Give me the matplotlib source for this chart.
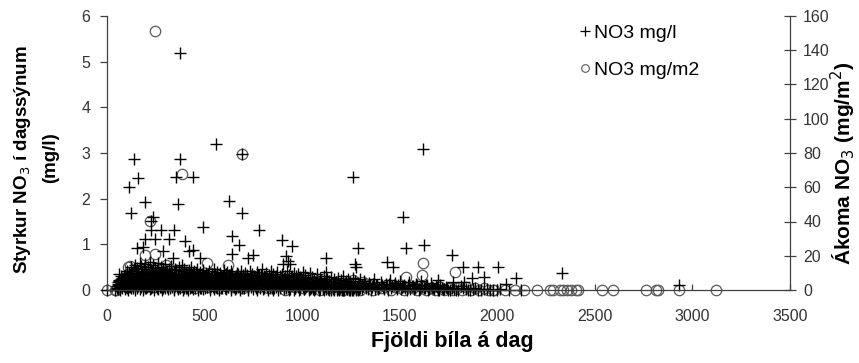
import matplotlib
matplotlib.use("Agg")
import matplotlib.pyplot as plt
from matplotlib.lines import Line2D

plt.rcParams['font.family'] = ['Liberation Sans', 'DejaVu Sans']

# NO3 concentration in daily samples (mg/l) vs cars per day
conc_outliers = [(375, 5.2), (560, 3.2), (138, 2.87), (374, 2.87), (1620, 3.08), (159, 2.45),
                 (113, 2.25), (353, 2.47), (440, 2.48), (1260, 2.48), (193, 1.92), (364, 1.88),
                 (623, 1.95), (123, 1.69), (690, 1.68), (237, 1.59), (1516, 1.59), (223, 1.52),
                 (493, 1.39), (228, 1.31), (276, 1.31), (343, 1.31), (780, 1.31), (196, 1.11),
                 (244, 1.11), (319, 1.11), (401, 1.08), (640, 1.18), (899, 1.09), (674, 0.98),
                 (947, 0.96), (1287, 0.93), (1534, 0.93), (1623, 0.98), (152, 0.91), (186, 0.95),
                 (288, 0.86), (421, 0.86), (442, 0.88), (643, 0.79), (750, 0.77), (916, 0.74),
                 (1766, 0.77), (723, 0.69), (340, 0.69), (476, 0.69), (1124, 0.69), (928, 0.64),
                 (902, 0.58), (940, 0.58), (1270, 0.58), (1435, 0.62), (1274, 0.50), (1466, 0.50),
                 (1825, 0.50), (1901, 0.50), (2004, 0.50), (61, 0.36), (1124, 0.40), (2331, 0.38),
                 (1697, 0.22), (1870, 0.27), (1932, 0.29), (2094, 0.27), (1773, 0.18), (1828, 0.18),
                 (2046, 0.13), (2930, 0.10), (692, 2.98), (0, 0.0), (40, 0.0)]

conc_band_upper = [(58, 0.18), (72, 0.25), (88, 0.3), (101, 0.42), (112, 0.38), (121, 0.5), (137, 0.45),
                   (146, 0.55), (152, 0.48), (167, 0.6), (174, 0.52), (189, 0.47), (196, 0.58), (208, 0.5),
                   (219, 0.62), (224, 0.44), (238, 0.55), (247, 0.49), (259, 0.6), (263, 0.42), (277, 0.51),
                   (286, 0.47), (298, 0.58), (305, 0.4), (317, 0.45), (326, 0.52), (334, 0.38), (347, 0.47),
                   (352, 0.43), (368, 0.5), (379, 0.41), (383, 0.55), (396, 0.46), (404, 0.39), (418, 0.44),
                   (427, 0.36), (431, 0.5), (445, 0.42), (458, 0.37), (463, 0.46), (479, 0.4), (488, 0.35),
                   (492, 0.44), (506, 0.38), (515, 0.33), (523, 0.42), (537, 0.36), (548, 0.45), (556, 0.34),
                   (564, 0.4), (578, 0.37), (585, 0.31), (599, 0.43), (608, 0.35), (613, 0.39), (627, 0.32),
                   (636, 0.41), (642, 0.36), (659, 0.3), (668, 0.38), (671, 0.34), (688, 0.42), (697, 0.33)]

conc_band_mid = [(62, 0.1), (75, 0.15), (84, 0.2), (93, 0.12), (108, 0.24), (116, 0.18), (129, 0.3),
                 (141, 0.22), (157, 0.28), (162, 0.15), (181, 0.33), (193, 0.2), (202, 0.27), (214, 0.16),
                 (229, 0.3), (243, 0.22), (251, 0.34), (268, 0.19), (274, 0.28), (292, 0.24), (301, 0.17),
                 (312, 0.29), (329, 0.21), (337, 0.26), (358, 0.18), (364, 0.3), (372, 0.22), (389, 0.27),
                 (399, 0.19), (411, 0.25), (422, 0.17), (438, 0.28), (449, 0.2), (456, 0.24), (471, 0.16),
                 (484, 0.27), (498, 0.21), (509, 0.18), (518, 0.26), (531, 0.2), (542, 0.15), (559, 0.24),
                 (567, 0.19), (581, 0.27), (593, 0.16), (604, 0.22), (619, 0.18), (628, 0.25), (641, 0.14),
                 (655, 0.21), (663, 0.17), (679, 0.24), (692, 0.19)]

conc_band_low = [(55, 0.03), (66, 0.0), (79, 0.05), (90, 0.02), (99, 0.07), (110, 0.0), (124, 0.04),
                 (134, 0.09), (143, 0.01), (155, 0.06), (169, 0.03), (177, 0.1), (187, 0.0), (199, 0.05),
                 (211, 0.08), (221, 0.02), (233, 0.06), (241, 0.0), (256, 0.09), (262, 0.03), (279, 0.07),
                 (283, 0.0), (296, 0.05), (309, 0.1), (314, 0.02), (331, 0.06), (342, 0.0), (350, 0.08),
                 (366, 0.03), (371, 0.07), (387, 0.01), (394, 0.09), (406, 0.04), (416, 0.0), (433, 0.06),
                 (441, 0.02), (453, 0.08), (466, 0.0), (477, 0.05), (489, 0.1), (494, 0.02), (511, 0.06),
                 (527, 0.0), (534, 0.09), (549, 0.03), (561, 0.07), (574, 0.0), (583, 0.05), (597, 0.1),
                 (611, 0.02), (622, 0.06), (637, 0.0), (646, 0.08), (658, 0.03), (669, 0.07), (683, 0.01),
                 (694, 0.05)]

conc_band_extra = [(53, 0.08), (60, 0.2), (69, 0.12), (77, 0.27), (86, 0.09), (92, 0.33), (103, 0.15),
                   (106, 0.29), (114, 0.08), (119, 0.36), (127, 0.2), (131, 0.12), (139, 0.38), (148, 0.26),
                   (150, 0.11), (160, 0.41), (165, 0.22), (171, 0.13), (179, 0.39), (183, 0.24), (191, 0.09),
                   (198, 0.36), (204, 0.14), (210, 0.42), (217, 0.25), (226, 0.12), (232, 0.4), (236, 0.17),
                   (245, 0.31), (249, 0.08), (254, 0.44), (261, 0.23), (266, 0.11), (272, 0.37), (281, 0.16),
                   (288, 0.3), (291, 0.09), (299, 0.41), (303, 0.25), (310, 0.13), (319, 0.35), (324, 0.08),
                   (332, 0.27), (339, 0.15), (344, 0.38), (355, 0.11), (361, 0.24), (369, 0.36), (376, 0.14),
                   (381, 0.29), (391, 0.08), (398, 0.34), (402, 0.13), (409, 0.3), (414, 0.21), (425, 0.1),
                   (429, 0.33), (436, 0.14), (443, 0.37), (451, 0.11), (459, 0.3), (467, 0.09), (473, 0.34),
                   (481, 0.12), (486, 0.31), (496, 0.1), (503, 0.28), (512, 0.13), (520, 0.35), (526, 0.09),
                   (533, 0.27), (540, 0.12), (551, 0.3), (558, 0.08), (566, 0.33), (573, 0.13), (579, 0.25),
                   (588, 0.1), (595, 0.3), (602, 0.12), (609, 0.36), (616, 0.09), (624, 0.28), (631, 0.14),
                   (639, 0.31), (647, 0.1), (653, 0.27), (661, 0.12), (666, 0.33), (674, 0.09), (681, 0.29),
                   (689, 0.13), (696, 0.26),
                   (707, 0.1), (715, 0.25), (723, 0.06), (736, 0.3), (741, 0.14), (755, 0.23), (760, 0.08),
                   (772, 0.32), (783, 0.12), (789, 0.25), (806, 0.09), (812, 0.28), (824, 0.14), (831, 0.33),
                   (843, 0.05), (849, 0.24), (861, 0.13), (866, 0.3), (878, 0.08), (884, 0.22), (899, 0.12),
                   (911, 0.3), (919, 0.08), (925, 0.22), (942, 0.13), (949, 0.31), (961, 0.07), (971, 0.21),
                   (979, 0.1), (989, 0.29), (1002, 0.06), (1013, 0.2), (1021, 0.09), (1031, 0.25),
                   (1044, 0.05), (1055, 0.18), (1066, 0.08), (1074, 0.22), (1085, 0.04), (1096, 0.16),
                   (1108, 0.07), (1121, 0.19), (1133, 0.03), (1146, 0.14), (1158, 0.06), (1171, 0.17),
                   (1182, 0.02), (1195, 0.13), (1207, 0.05), (1219, 0.15), (1232, 0.02), (1244, 0.11)]

conc_band_fill = [(51, 0.05), (57, 0.14), (63, 0.22), (67, 0.06), (71, 0.18), (74, 0.3), (80, 0.1),
                  (83, 0.24), (87, 0.16), (91, 0.06), (95, 0.27), (98, 0.19), (102, 0.04), (105, 0.35),
                  (109, 0.12), (113, 0.21), (117, 0.28), (120, 0.07), (123, 0.16), (126, 0.33), (130, 0.24),
                  (133, 0.05), (136, 0.18), (140, 0.3), (144, 0.13), (147, 0.36), (151, 0.2), (154, 0.04),
                  (158, 0.33), (161, 0.09), (164, 0.27), (168, 0.18), (172, 0.37), (175, 0.06), (178, 0.25),
                  (182, 0.14), (186, 0.31), (190, 0.22), (194, 0.04), (197, 0.15), (201, 0.35), (205, 0.07),
                  (209, 0.24), (213, 0.32), (216, 0.09), (220, 0.19), (223, 0.36), (227, 0.05), (231, 0.23),
                  (235, 0.14), (239, 0.33), (242, 0.06), (246, 0.25), (250, 0.16), (253, 0.38), (257, 0.05),
                  (260, 0.27), (264, 0.18), (269, 0.32), (273, 0.07), (276, 0.22), (280, 0.13), (284, 0.35),
                  (287, 0.04), (290, 0.2), (294, 0.31), (298, 0.11), (302, 0.36), (306, 0.06), (311, 0.22),
                  (315, 0.14), (318, 0.3), (322, 0.04), (327, 0.19), (330, 0.33), (335, 0.1), (338, 0.24),
                  (343, 0.05), (346, 0.3), (351, 0.15), (354, 0.35), (357, 0.07), (362, 0.2), (367, 0.12),
                  (370, 0.31), (374, 0.04), (378, 0.21), (382, 0.09), (385, 0.34), (390, 0.16), (393, 0.05),
                  (397, 0.26), (401, 0.1), (405, 0.2), (408, 0.04), (412, 0.33), (417, 0.11), (421, 0.24),
                  (424, 0.05), (428, 0.18), (432, 0.27), (435, 0.07), (440, 0.2), (444, 0.1), (448, 0.31),
                  (452, 0.04), (457, 0.16), (461, 0.26), (465, 0.06), (469, 0.21), (474, 0.12), (478, 0.3),
                  (482, 0.05), (487, 0.18), (491, 0.09), (495, 0.26), (500, 0.04), (504, 0.16), (508, 0.31),
                  (513, 0.07), (517, 0.2), (521, 0.11), (525, 0.29), (530, 0.04), (535, 0.15), (539, 0.24),
                  (544, 0.06), (547, 0.19), (552, 0.1), (557, 0.28), (562, 0.05), (565, 0.14), (570, 0.22),
                  (575, 0.07), (580, 0.17), (584, 0.31), (589, 0.04), (592, 0.2), (598, 0.11), (603, 0.27),
                  (607, 0.05), (612, 0.15), (617, 0.25), (621, 0.07), (626, 0.19), (630, 0.32), (634, 0.04),
                  (640, 0.13), (644, 0.23), (649, 0.06), (654, 0.17), (657, 0.29), (662, 0.05), (667, 0.21),
                  (672, 0.12), (677, 0.27), (680, 0.04), (686, 0.16), (691, 0.22), (695, 0.08), (699, 0.29),
                  (703, 0.05), (709, 0.2), (714, 0.12), (719, 0.32), (725, 0.04), (729, 0.17), (733, 0.24),
                  (740, 0.06), (745, 0.2), (749, 0.09), (754, 0.3), (759, 0.15), (765, 0.04), (769, 0.26),
                  (775, 0.13), (781, 0.2), (785, 0.05), (790, 0.33), (795, 0.1), (801, 0.22), (807, 0.04),
                  (811, 0.15), (818, 0.26), (823, 0.08), (829, 0.19), (836, 0.04), (841, 0.29), (845, 0.12),
                  (852, 0.22), (858, 0.05), (862, 0.15), (869, 0.25), (874, 0.08), (880, 0.19), (886, 0.04),
                  (891, 0.27), (897, 0.1), (903, 0.21), (908, 0.04), (914, 0.14), (920, 0.24), (926, 0.06),
                  (932, 0.18), (937, 0.03), (943, 0.23), (950, 0.1), (955, 0.2), (962, 0.04), (968, 0.14),
                  (973, 0.25), (978, 0.06), (985, 0.17), (991, 0.03), (997, 0.22), (1003, 0.1), (1009, 0.17),
                  (1016, 0.04), (1022, 0.2), (1027, 0.1), (1035, 0.15), (1041, 0.03), (1048, 0.19),
                  (1053, 0.08), (1060, 0.13), (1067, 0.02), (1072, 0.16), (1079, 0.08), (1086, 0.12),
                  (1092, 0.02), (1100, 0.14), (1106, 0.05), (1114, 0.1), (1122, 0.02), (1129, 0.13),
                  (1135, 0.06), (1142, 0.09), (1150, 0.01), (1157, 0.12), (1163, 0.04), (1170, 0.08),
                  (1178, 0.01), (1186, 0.1), (1193, 0.04), (1201, 0.07), (1210, 0.0), (1218, 0.09),
                  (1226, 0.04), (1234, 0.06), (1243, 0.0), (1251, 0.08), (1258, 0.03), (1267, 0.05),
                  (1275, 0.0), (1283, 0.07), (1290, 0.03), (1298, 0.05),
                  (1309, 0.02), (1314, 0.09), (1323, 0.14), (1335, 0.03), (1347, 0.1), (1358, 0.06),
                  (1363, 0.14), (1372, 0.02), (1384, 0.12), (1396, 0.05), (1409, 0.1), (1421, 0.02),
                  (1433, 0.08), (1445, 0.13), (1457, 0.04), (1469, 0.1), (1481, 0.06), (1493, 0.12),
                  (1505, 0.02), (1517, 0.09), (1529, 0.05), (1541, 0.11), (1553, 0.02), (1566, 0.08),
                  (1579, 0.05), (1591, 0.1), (1603, 0.02), (1615, 0.08), (1628, 0.04), (1640, 0.1),
                  (1652, 0.02), (1665, 0.07), (1677, 0.03), (1690, 0.06), (1702, 0.01), (1715, 0.05),
                  (1729, 0.02), (1742, 0.04), (1756, 0.0), (1779, 0.03), (1801, 0.01), (1826, 0.04),
                  (1850, 0.0), (1873, 0.02), (1900, 0.0), (1931, 0.02), (1965, 0.0), (1996, 0.01)]

conc_band_far = [(705, 0.38), (718, 0.3), (731, 0.42), (744, 0.35), (758, 0.28), (767, 0.4), (779, 0.33),
                 (792, 0.45), (803, 0.3), (816, 0.37), (828, 0.26), (839, 0.42), (851, 0.34), (863, 0.29),
                 (872, 0.4), (887, 0.31), (896, 0.36), (909, 0.27), (921, 0.41), (933, 0.33), (944, 0.28),
                 (958, 0.38), (967, 0.3), (981, 0.35), (992, 0.26), (1006, 0.4), (1015, 0.32), (1029, 0.27),
                 (1038, 0.37), (1052, 0.29), (1063, 0.24), (1077, 0.34), (1089, 0.27), (1098, 0.22),
                 (1112, 0.31), (1126, 0.25), (1137, 0.2), (1149, 0.29), (1161, 0.23), (1175, 0.18),
                 (1184, 0.27), (1198, 0.21), (1209, 0.3), (1223, 0.19), (1236, 0.24), (1247, 0.17),
                 (1259, 0.26), (1271, 0.2), (1288, 0.15), (1296, 0.23),
                 (712, 0.18), (726, 0.1), (738, 0.2), (751, 0.13), (763, 0.22), (774, 0.08), (786, 0.17),
                 (797, 0.12), (809, 0.2), (821, 0.07), (834, 0.16), (846, 0.11), (857, 0.19), (868, 0.06),
                 (881, 0.15), (893, 0.1), (904, 0.18), (917, 0.05), (928, 0.14), (939, 0.09), (952, 0.17),
                 (963, 0.04), (976, 0.13), (987, 0.08), (999, 0.16), (1011, 0.03), (1024, 0.12),
                 (1033, 0.07), (1046, 0.14), (1058, 0.03), (1069, 0.1), (1082, 0.06), (1094, 0.12),
                 (1105, 0.02), (1118, 0.09), (1131, 0.05), (1143, 0.11), (1156, 0.02), (1168, 0.08),
                 (1179, 0.04), (1191, 0.1), (1204, 0.01), (1216, 0.07), (1228, 0.03), (1241, 0.09),
                 (1253, 0.0), (1265, 0.06), (1277, 0.02), (1292, 0.08),
                 (720, 0.0), (748, 0.02), (771, 0.0), (799, 0.03), (826, 0.0), (853, 0.01), (877, 0.0),
                 (906, 0.02), (931, 0.0), (956, 0.01), (984, 0.0), (1008, 0.02), (1036, 0.0), (1061, 0.01),
                 (1087, 0.0), (1113, 0.01), (1139, 0.0), (1164, 0.01), (1188, 0.0), (1213, 0.01),
                 (1239, 0.0), (1262, 0.01), (1285, 0.0)]

conc_band_tail = [(1305, 0.12), (1318, 0.2), (1329, 0.05), (1342, 0.16), (1354, 0.0), (1367, 0.24),
                  (1378, 0.1), (1391, 0.03), (1403, 0.18), (1416, 0.07), (1428, 0.13), (1439, 0.0),
                  (1452, 0.22), (1463, 0.09), (1476, 0.15), (1488, 0.02), (1499, 0.19), (1511, 0.06),
                  (1524, 0.12), (1537, 0.0), (1548, 0.17), (1561, 0.08), (1573, 0.03), (1586, 0.14),
                  (1598, 0.0), (1609, 0.2), (1622, 0.05), (1634, 0.11), (1647, 0.0), (1659, 0.16),
                  (1671, 0.04), (1684, 0.09), (1696, 0.0), (1708, 0.12), (1721, 0.03), (1735, 0.07),
                  (1749, 0.0), (1768, 0.05), (1790, 0.0), (1812, 0.08), (1841, 0.02), (1858, 0.0),
                  (1887, 0.04), (1915, 0.0), (1948, 0.03), (1980, 0.0), (2015, 0.02), (2060, 0.0),
                  (2120, 0.01)]

# NO3 load (mg/m2) vs cars per day
load_outliers = [(245, 151), (383, 67.7), (692, 79.5), (220, 40.5), (195, 20.4), (246, 21),
                 (510, 15.6), (118, 14), (109, 13.6), (302, 14.6), (621, 14.6), (1620, 16),
                 (1534, 7.8), (1613, 8.8), (1782, 10.3), (1261, 5.8), (1312, 4.8), (1116, 3.3),
                 (0, 0), (40, 0)]

load_band = [(48, 0), (64, 1.5), (82, 3), (96, 5), (107, 2), (126, 7), (139, 4), (151, 9), (164, 3),
             (176, 11), (188, 6), (203, 12), (216, 5), (230, 9), (239, 2), (257, 13), (269, 7), (281, 10),
             (293, 4), (306, 8), (321, 12), (333, 3), (345, 9), (359, 6), (370, 11), (384, 2), (397, 7),
             (410, 10), (423, 4), (437, 8), (450, 1), (462, 6), (475, 9), (489, 3), (503, 7), (517, 2),
             (529, 10), (541, 5), (555, 8), (569, 1), (582, 6), (596, 3), (609, 9), (624, 4), (638, 7),
             (651, 2), (666, 5), (681, 8), (696, 1), (712, 6), (734, 3), (757, 7), (779, 2), (801, 5),
             (824, 1), (846, 6), (869, 3), (891, 4), (914, 0), (937, 5), (959, 2), (982, 6), (1004, 1),
             (1027, 4), (1049, 2), (1072, 5), (1094, 0), (1117, 3), (1139, 1), (1162, 4), (1184, 2),
             (1207, 0), (1229, 3), (1252, 1), (1274, 4), (1297, 0), (1320, 2), (1342, 3), (1365, 0),
             (1388, 2), (1410, 1), (1433, 3), (1455, 0), (1478, 2), (1500, 1), (1523, 0), (1546, 2),
             (1568, 1), (1591, 0), (1614, 2), (1636, 0), (1659, 1), (1681, 0), (1704, 2), (1727, 0),
             (1750, 1), (1772, 0), (1795, 1), (1818, 0), (1840, 2), (1863, 0), (1886, 1), (1908, 0),
             (1931, 1), (1954, 0), (1977, 0)]

load_right = [(1983, 0), (2042, 0), (2089, 0), (2136, 0), (2203, 0), (2268, 0), (2288, 0), (2319, 0),
              (2336, 0), (2356, 0), (2379, 0), (2401, 0), (2416, 0), (2536, 0), (2593, 0), (2760, 0),
              (2815, 0), (2823, 0), (2932, 0), (3121, 0)]

x_ticks = [0, 500, 1000, 1500, 2000, 2500, 3000, 3500]
left_ticks = [0, 1, 2, 3, 4, 5, 6]
right_ticks = [0, 20, 40, 60, 80, 100, 120, 140, 160]

conc = (conc_band_low + conc_band_mid + conc_band_fill + conc_band_extra + conc_band_upper
        + conc_band_far + conc_band_tail + conc_outliers)
load = load_band + load_right + load_outliers

fig = plt.figure(figsize=(8.59, 3.63), dpi=100)
ax = fig.add_axes([107 / 859, 1 - 290 / 363, 683 / 859, 274 / 363])
ax2 = ax.twinx()
# crosses on top of the circles
ax.set_zorder(ax2.get_zorder() + 1)
ax.patch.set_visible(False)

ax2.plot([p[0] for p in load], [p[1] for p in load], linestyle='none', marker='o',
         ms=7.5, mew=0.9, mfc='none', mec='#5a5a5a', clip_on=False)
ax.plot([p[0] for p in conc], [p[1] for p in conc], linestyle='none', marker='+',
        ms=8, mew=1.0, color='black', clip_on=False)

ax.set_xlim(0, 3500)
ax.set_ylim(0, 6)
ax2.set_ylim(0, 160)
ax.set_xticks(x_ticks)
ax.set_yticks(left_ticks)
ax2.set_yticks(right_ticks)

for a in (ax, ax2):
    a.spines['top'].set_visible(False)
    for s in a.spines.values():
        s.set_color('#404040')
        s.set_linewidth(0.9)
ax.spines['right'].set_visible(False)
ax2.spines['left'].set_visible(False)
ax2.spines['bottom'].set_visible(False)

ax.tick_params(axis='x', direction='in', length=4, width=0.9, color='#404040',
               labelsize=11.5, labelcolor='#333333', pad=14)
ax.tick_params(axis='y', direction='out', length=5, width=0.9, color='#404040',
               labelsize=11.5, labelcolor='#333333', pad=7)
ax2.tick_params(axis='y', direction='inout', length=9, width=0.9, color='#404040',
                labelsize=11.5, labelcolor='#333333', pad=5)

fig.text(23 / 859, 1 - 160 / 363, 'Styrkur NO$_3$ í dagssýnum', rotation=90,
         ha='center', va='center', fontsize=13.5, fontweight='bold')
fig.text(51 / 859, 1 - 158 / 363, '(mg/l)', rotation=90,
         ha='center', va='center', fontsize=13.5, fontweight='bold')
fig.text(843 / 859, 1 - 163 / 363, 'Ákoma NO$_3$ (mg/m$^2$)', rotation=90,
         ha='center', va='center', fontsize=15, fontweight='bold')
fig.text(452 / 859, 1 - 341 / 363, 'Fjöldi bíla á dag',
         ha='center', va='center', fontsize=15.5, fontweight='bold')

handles = [Line2D([], [], linestyle='none', marker='+', ms=6.5, mew=0.9, color='black'),
           Line2D([], [], linestyle='none', marker='o', ms=5.5, mew=0.8, mfc='none', mec='#5a5a5a')]
ax2.legend(handles, ['NO3 mg/l', 'NO3 mg/m2'], loc='upper left', bbox_to_anchor=(579 / 859, 1 - 24 / 363),
           bbox_transform=fig.transFigure, frameon=False, fontsize=14, handlelength=0.6,
           handletextpad=0.15, labelspacing=1.0, borderaxespad=0, borderpad=0)

fig.savefig('out.png', dpi=100)
